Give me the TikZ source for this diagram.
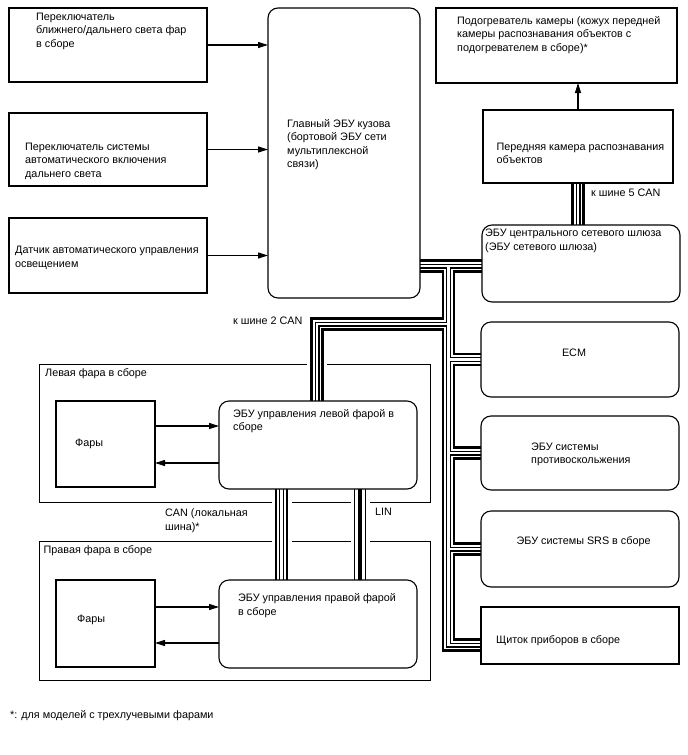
\documentclass[tikz,border=0pt]{standalone}
\usepackage{fontspec}
\setmainfont{Liberation Sans}
\usetikzlibrary{positioning,arrows.meta,backgrounds}

\begin{document}
\begin{tikzpicture}[x=1pt,y=-1pt,>={Triangle[length=10pt,width=6pt]},
    font=\fontsize{10.8}{13.5}\selectfont,
    unit box/.style={draw,line width=1.1pt,minimum width=198pt,outer sep=0pt,inner sep=0pt},
    ecu box/.style={unit box,rounded corners=10pt},
    assy frame/.style={draw,line width=1pt,minimum width=391pt,outer sep=0pt,inner sep=0pt},
    note/.style={inner sep=0pt,align=left,anchor=north west},
    sig/.style={->,line width=1.1pt}]
  \useasboundingbox (0,0) rectangle (688,755);

  % left column
  \node[unit box,minimum height=74pt] (dimsw) at (108,45) {};
  \node[unit box,minimum height=73pt,below=31pt of dimsw] (ahbsw) {};
  \node[unit box,minimum height=75pt,below=32pt of ahbsw] (lsens) {};
  \node[ecu box,minimum width=152pt,minimum height=290pt] (body) at (344,153) {};

  % right column
  \node[unit box,minimum width=241pt,minimum height=75pt] (heater) at (556.5,45.5) {};
  \node[unit box,minimum width=190pt,minimum height=73pt] (cam) at (578,146.5) {};
  \node[ecu box,minimum height=77pt] (gw) at (581,263.5) {};
  \node[ecu box,minimum height=75pt] (ecm) at (580,359.5) {};
  \node[ecu box,minimum height=74pt,below=19pt of ecm] (pcs) {};
  \node[ecu box,minimum height=76pt,below=21pt of pcs] (srs) {};
  \node[unit box,minimum height=57pt,below=20pt of srs] (meter) {};

  % headlamps
  \node[unit box,minimum width=99pt,minimum height=86pt] (llamp) at (105.5,444) {};
  \node[ecu box,minimum height=88pt] (lecu) at (318,445) {};
  \node[unit box,minimum width=99pt,minimum height=87pt,below=93pt of llamp] (rlamp) {};
  \node[ecu box,minimum height=88pt,below=91pt of lecu] (recu) {};

  % texts
  \node[note] (dimsw-t) at (36,12.5) {Переключатель\\ближнего/дальнего света фар\\в сборе};
  \node[note] (ahbsw-t) at (25,142.5) {Переключатель системы\\автоматического включения\\дальнего света};
  \node[note] (lsens-t) at (15,246) {Датчик автоматического управления\\освещением};
  \node[note] (body-t) at (287,119) {Главный ЭБУ кузова\\(бортовой ЭБУ сети\\мультиплексной\\связи)};
  \node[note] (heater-t) at (457,16) {Подогреватель камеры (кожух передней\\камеры распознавания объектов с\\подогревателем в сборе)*};
  \node[note] (cam-t) at (496.5,142.5) {Передняя камера распознавания\\объектов};
  \node[note] (gw-t) at (485,229) {ЭБУ центрального сетевого шлюза\\(ЭБУ сетевого шлюза)};
  \node[inner sep=0pt] (ecm-t) at (574,352.5) {ECM};
  \node[note] (pcs-t) at (531,442.5) {ЭБУ системы\\противоскольжения};
  \node[note] (srs-t) at (516.5,536.5) {ЭБУ системы SRS в сборе};
  \node[note] (meter-t) at (496,635) {Щиток приборов в сборе};
  \node[note] (lassy-t) at (45,368.5) {Левая фара в сборе};
  \node[note] (llamp-t) at (75,438.5) {Фары};
  \node[note] (lecu-t) at (233,409) {ЭБУ управления левой фарой в\\сборе};
  \node[note] (rassy-t) at (43.5,545) {Правая фара в сборе};
  \node[note] (rlamp-t) at (77,615) {Фары};
  \node[note] (recu-t) at (238,593.5) {ЭБУ управления правой фарой\\в сборе};
  \node[note] (can2-t) at (233,317) {к шине 2 CAN};
  \node[note] (can5-t) at (591,189) {к шине 5 CAN};
  \node[note] (canl-t) at (165,508.5) {CAN (локальная\\шина)*};
  \node[note] (lin-t) at (375,507.5) {LIN};
  \node[note] (foot-t) at (10,710) {*: для моделей с трехлучевыми фарами};

  % signal lines
  \draw[sig] (dimsw.east) -- (dimsw.east -| body.west);
  \draw[sig] (ahbsw.east) -- (ahbsw.east -| body.west);
  \draw[sig] (lsens.east) -- (lsens.east -| body.west);
  \draw[sig] (cam.north) -- (cam.north |- heater.south);
  \draw[sig] ([yshift=18pt]llamp.east) -- ([yshift=18pt]llamp.east -| lecu.west);
  \draw[sig] ([yshift=-19pt]llamp.east -| lecu.west) -- ([yshift=-19pt]llamp.east);
  \draw[sig] ([yshift=16.5pt]rlamp.east) -- ([yshift=16.5pt]rlamp.east -| recu.west);
  \draw[sig] ([yshift=-19.5pt]rlamp.east -| recu.west) -- ([yshift=-19.5pt]rlamp.east);

  % bus lines
  \coordinate (ja) at (448.5,266);
  \coordinate (jc) at (448.5,324);
  \coordinate (kc) at (317,324);
  \coordinate (jm) at (448.5,645);
  \coordinate (lcan) at ([xshift=-36.5pt]lecu.south);
  \coordinate (lin) at ([xshift=42pt]lecu.south);

  \begin{pgfonlayer}{background}
    \node[assy frame,minimum height=138pt] (lassy) at (234.5,433) {};
    \node[assy frame,minimum height=139pt,below=39pt of lassy] (rassy) {};
    \foreach \lw/\col in {20/white,13.2/black,8.6/white,5/black,2.4/white}
      \draw[line width=\lw pt,\col] (body.east |- ja) -- (gw.west |- ja)
        (ja) -- (jm) -- (jm -| meter.west)
        (ja |- ecm.west) -- (ecm.west)
        (ja |- pcs.west) -- (pcs.west)
        (ja |- srs.west) -- (srs.west)
        (jc) -- (kc) -- (kc |- lecu.north)
        (cam.south) -- (cam.south |- gw.north)
        (lcan) -- (lcan |- recu.north);
    \foreach \lw/\col in {19/white,12.7/black,10/white,4.5/black}
      \draw[line width=\lw pt,\col] (lin) -- (lin |- recu.north);
  \end{pgfonlayer}
\end{tikzpicture}
\end{document}
